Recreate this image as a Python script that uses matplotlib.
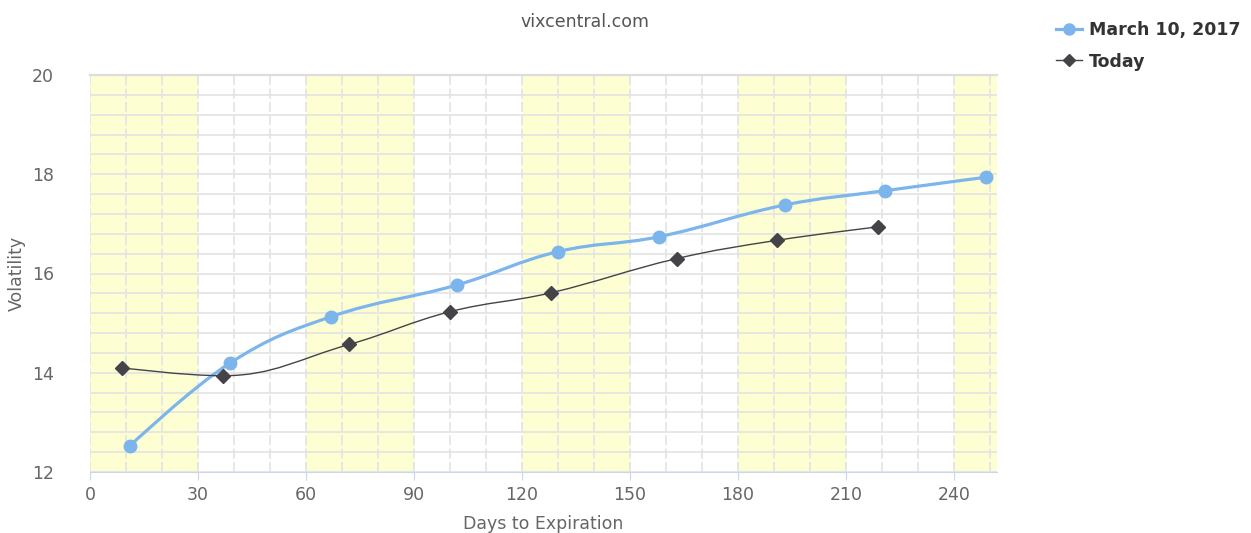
import matplotlib.pyplot as plt
from matplotlib.path import Path
from matplotlib.patches import PathPatch
from matplotlib.lines import Line2D

# data
march_days = [11, 39, 67, 102, 130, 158, 193, 221, 249]
march_vol = [12.52, 14.20, 15.13, 15.77, 16.44, 16.74, 17.38, 17.67, 17.94]
today_days = [9, 37, 72, 100, 128, 163, 191, 219]
today_vol = [14.10, 13.94, 14.57, 15.23, 15.61, 16.30, 16.67, 16.94]

x_ticks = [0, 30, 60, 90, 120, 150, 180, 210, 240]
y_ticks = [12, 14, 16, 18, 20]
band_starts = [0, 60, 120, 180, 240]

BLUE = "#7cb5ec"
DARK = "#434348"


def spline_path(xs, ys, smoothing=1.5):
    # bezier control points in the style of a highcharts spline
    denom = smoothing + 1
    n = len(xs)
    left = [None] * n
    right = [None] * n
    for i in range(n):
        px, py = xs[i], ys[i]
        if i == 0 or i == n - 1:
            left[i] = (px, py)
            right[i] = (px, py)
            continue
        lx, ly = xs[i - 1], ys[i - 1]
        nx, ny = xs[i + 1], ys[i + 1]
        lcx = (smoothing * px + lx) / denom
        lcy = (smoothing * py + ly) / denom
        rcx = (smoothing * px + nx) / denom
        rcy = (smoothing * py + ny) / denom
        if rcx != lcx:
            corr = (rcy - lcy) * (rcx - px) / (rcx - lcx) + py - rcy
            lcy += corr
            rcy += corr
        if lcy > ly and lcy > py:
            lcy = max(ly, py)
            rcy = 2 * py - lcy
        elif lcy < ly and lcy < py:
            lcy = min(ly, py)
            rcy = 2 * py - lcy
        if rcy > ny and rcy > py:
            rcy = max(ny, py)
            lcy = 2 * py - rcy
        elif rcy < ny and rcy < py:
            rcy = min(ny, py)
            lcy = 2 * py - rcy
        left[i] = (lcx, lcy)
        right[i] = (rcx, rcy)
    verts = [(xs[0], ys[0])]
    codes = [Path.MOVETO]
    for i in range(1, n):
        verts += [right[i - 1], left[i], (xs[i], ys[i])]
        codes += [Path.CURVE4] * 3
    return Path(verts, codes)


fig = plt.figure(figsize=(12.51, 5.33), dpi=100)
ax = fig.add_axes([90 / 1251, 1 - 472 / 533, 907 / 1251, 397 / 533])

for b in band_starts:
    ax.axvspan(b, b + 30, color="#fefed3", zorder=0, lw=0)

ax.set_xlim(0, 252)
ax.set_ylim(12, 20)
ax.set_xticks(x_ticks)
ax.set_xticks(range(0, 252, 10), minor=True)
ax.set_yticks(y_ticks)
ax.set_yticks([12 + 0.4 * k for k in range(21)], minor=True)

ax.grid(axis="y", which="both", color="#e3e3e3", lw=1.2, zorder=1)
ax.grid(axis="x", which="both", color="#e3e3e3", lw=1.2, ls=(0, (6, 2)), zorder=1)

for s in ["left", "right"]:
    ax.spines[s].set_visible(False)
ax.spines["top"].set_color("#dddddd")
ax.spines["top"].set_linewidth(1.6)
ax.spines["bottom"].set_color("#ccd6eb")
ax.tick_params(axis="x", which="major", length=6, color="#ccd6eb", labelsize=12.5,
               labelcolor="#666666", pad=4)
ax.tick_params(axis="x", which="minor", length=0)
ax.tick_params(axis="y", which="both", length=0, labelsize=12.5, labelcolor="#666666", pad=26)

ax.add_patch(PathPatch(spline_path(march_days, march_vol), fill=False,
                       edgecolor=BLUE, lw=2.3, zorder=3))
ax.plot(march_days, march_vol, ls="none", marker="o", ms=9, color=BLUE, zorder=4)

ax.add_patch(PathPatch(spline_path(today_days, today_vol), fill=False,
                       edgecolor=DARK, lw=1.0, zorder=3))
ax.plot(today_days, today_vol, ls="none", marker="D", ms=7, color=DARK, zorder=4)

ax.set_xlabel("Days to Expiration", fontsize=12.5, color="#666666", labelpad=8)
ax.set_ylabel("Volatility", fontsize=12.5, color="#666666", labelpad=4)

fig.text(585 / 1251, 1 - 22 / 533, "vixcentral.com", ha="center", va="center",
         fontsize=12.5, color="#555555")

handles = [Line2D([], [], color=BLUE, lw=2.3, marker="o", ms=8),
           Line2D([], [], color=DARK, lw=1.0, marker="D", ms=6)]
leg = fig.legend(handles, ["March 10, 2017", "Today"], loc="upper left",
                 bbox_to_anchor=(1056 / 1251, 1 - 21 / 533), frameon=False,
                 prop={"weight": "bold", "size": 12.5}, handlelength=1.5,
                 handletextpad=0.4, labelspacing=0.78, borderaxespad=0,
                 borderpad=0)
for t in leg.get_texts():
    t.set_color("#333333")

fig.savefig("out.png", dpi=100)
